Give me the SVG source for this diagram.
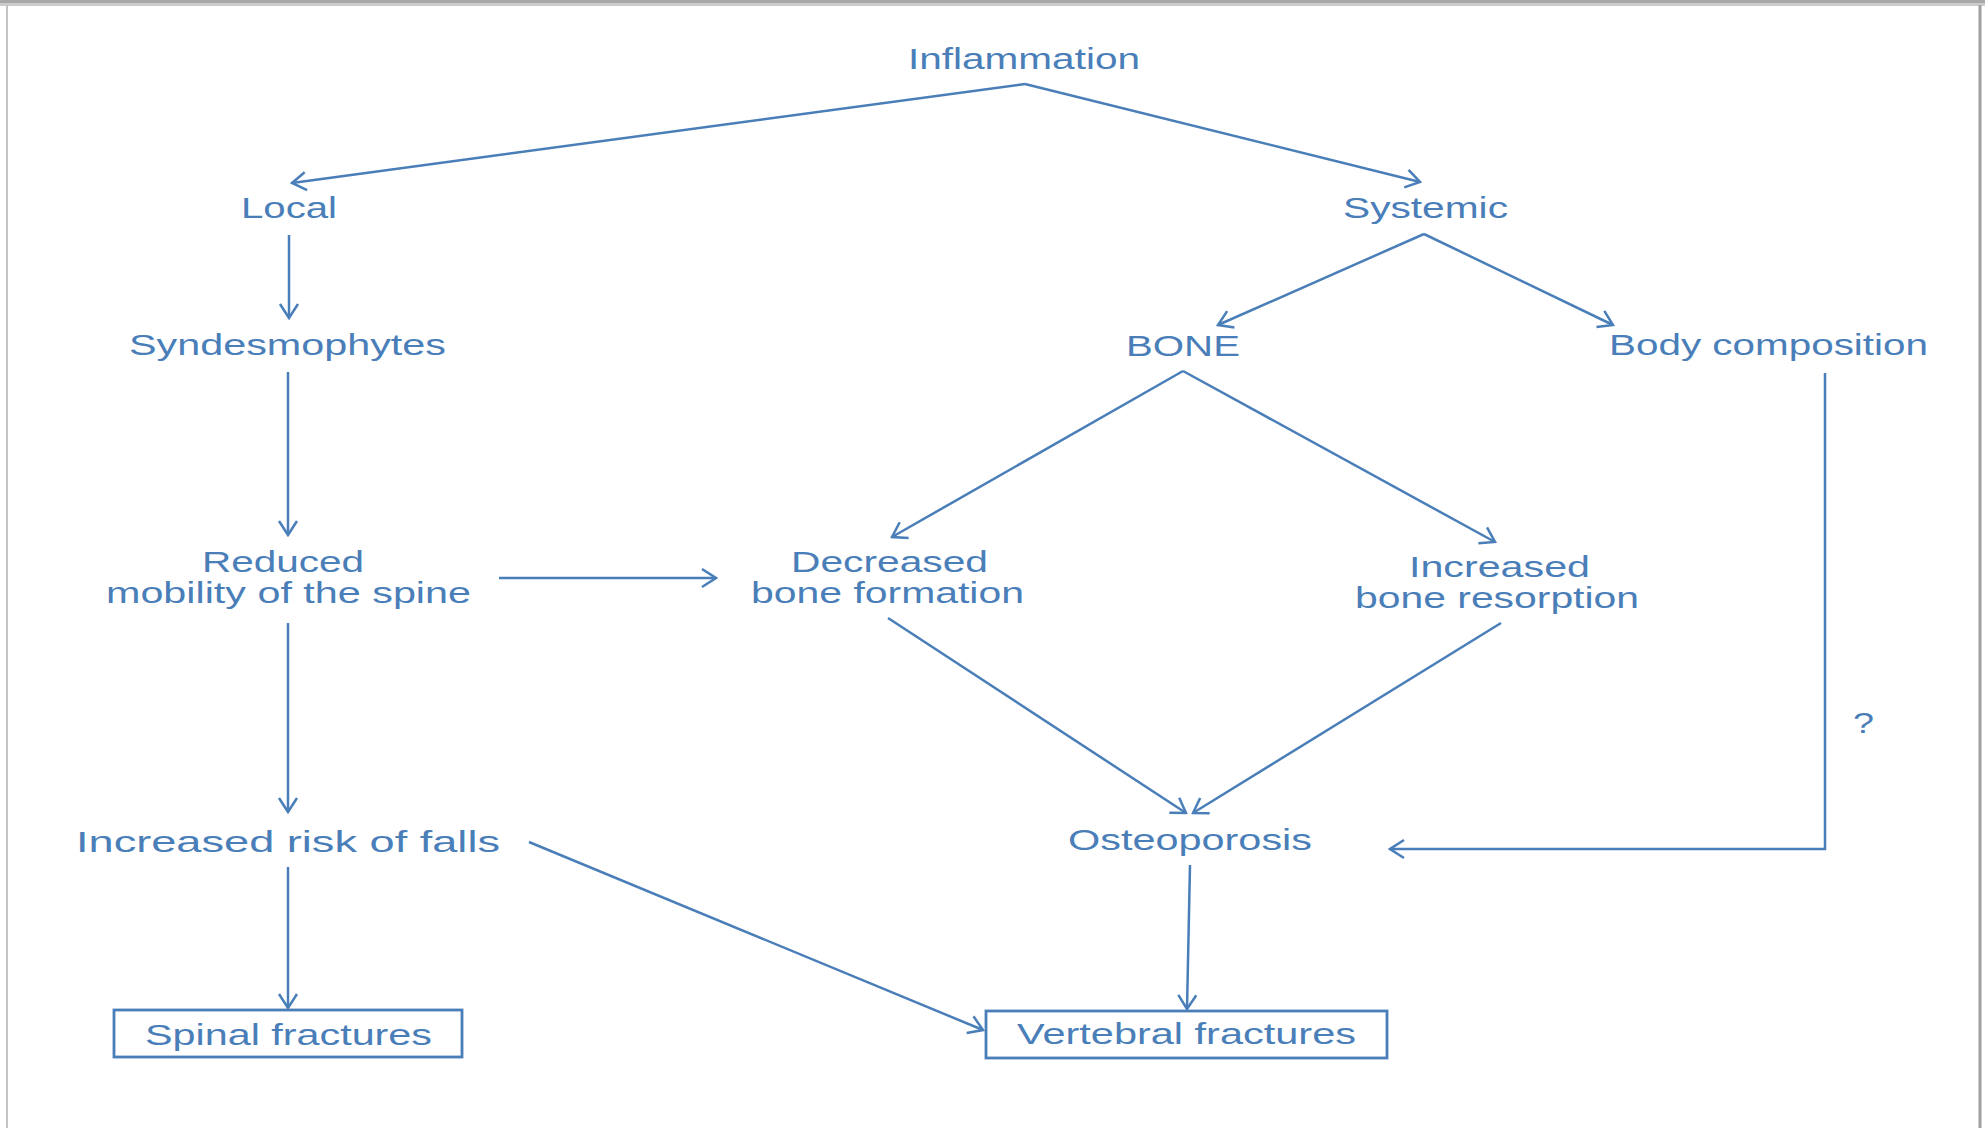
<svg xmlns="http://www.w3.org/2000/svg" width="1985" height="1128" viewBox="0 0 1985 1128">
<defs>
<style>
text{font-family:"Liberation Sans",Arial,sans-serif;font-size:29px;fill:#4a7eb8}
.c{fill:none;stroke:#4a7eb8;stroke-width:2.5}
.box{fill:none;stroke:#4a7eb8;stroke-width:2.8}
</style>
<marker id="ah" markerUnits="userSpaceOnUse" viewBox="-16 -11 18 22" markerWidth="18" markerHeight="22" refX="0" refY="0" orient="auto">
<path d="M-14,-9 L0,0 L-14,9" fill="none" stroke="#4a7eb8" stroke-width="2.5"/>
</marker>
</defs>
<rect width="1985" height="1128" fill="#ffffff"/>
<g id="frame">
<rect x="0" y="0" width="1985" height="3" fill="#a8a8a8"/>
<rect x="0" y="3" width="1985" height="3" fill="#cccccc"/>
<line x1="7" y1="5" x2="7" y2="1128" stroke="#c4c4c4" stroke-width="2"/>
<line x1="1980" y1="5" x2="1980" y2="1128" stroke="#a0a0a0" stroke-width="3"/>
</g>
<g id="connectors">
<path class="c" d="M1025,84 L292,183" marker-end="url(#ah)"/>
<path class="c" d="M1025,84 L1420,182" marker-end="url(#ah)"/>
<path class="c" d="M289,235 L289,318" marker-end="url(#ah)"/>
<path class="c" d="M288,372 L288,535" marker-end="url(#ah)"/>
<path class="c" d="M288,623 L288,812" marker-end="url(#ah)"/>
<path class="c" d="M288,867 L288,1008" marker-end="url(#ah)"/>
<path class="c" d="M499,578 L716,578" marker-end="url(#ah)"/>
<path class="c" d="M1424,234 L1218,325" marker-end="url(#ah)"/>
<path class="c" d="M1424,234 L1613,325" marker-end="url(#ah)"/>
<path class="c" d="M1183,371 L892,537" marker-end="url(#ah)"/>
<path class="c" d="M1183,371 L1495,542" marker-end="url(#ah)"/>
<path class="c" d="M888,618 L1186,813" marker-end="url(#ah)"/>
<path class="c" d="M1501,623 L1193,813" marker-end="url(#ah)"/>
<path class="c" d="M1825,373 L1825,849 L1390,849" stroke-width="3" marker-end="url(#ah)"/>
<path class="c" d="M1190,865 L1187,1009" marker-end="url(#ah)"/>
<path class="c" d="M529,842 L983,1030" marker-end="url(#ah)"/>
</g>
<g id="inflammation"><text x="908" y="69" textLength="232" lengthAdjust="spacingAndGlyphs">Inflammation</text></g>
<g id="local"><text x="241" y="218" textLength="96" lengthAdjust="spacingAndGlyphs">Local</text></g>
<g id="systemic"><text x="1343" y="218" textLength="165" lengthAdjust="spacingAndGlyphs">Systemic</text></g>
<g id="syndesmophytes"><text x="129" y="355" textLength="317" lengthAdjust="spacingAndGlyphs">Syndesmophytes</text></g>
<g id="bone"><text x="1126" y="356" textLength="114" lengthAdjust="spacingAndGlyphs">BONE</text></g>
<g id="body-composition"><text x="1609" y="355" textLength="319" lengthAdjust="spacingAndGlyphs">Body composition</text></g>
<g id="reduced-mobility">
<text x="202" y="572" textLength="162" lengthAdjust="spacingAndGlyphs">Reduced</text>
<text x="106" y="603" textLength="365" lengthAdjust="spacingAndGlyphs">mobility of the spine</text>
</g>
<g id="decreased-formation">
<text x="791" y="572" textLength="197" lengthAdjust="spacingAndGlyphs">Decreased</text>
<text x="751" y="603" textLength="273" lengthAdjust="spacingAndGlyphs">bone formation</text>
</g>
<g id="increased-resorption">
<text x="1409" y="577" textLength="181" lengthAdjust="spacingAndGlyphs">Increased</text>
<text x="1355" y="608" textLength="284" lengthAdjust="spacingAndGlyphs">bone resorption</text>
</g>
<g id="question"><text x="1853" y="733" textLength="21" lengthAdjust="spacingAndGlyphs">?</text></g>
<g id="falls"><text x="76" y="852" textLength="424" lengthAdjust="spacingAndGlyphs">Increased risk of falls</text></g>
<g id="osteoporosis"><text x="1068" y="850" textLength="244" lengthAdjust="spacingAndGlyphs">Osteoporosis</text></g>
<g id="spinal-fractures">
<rect class="box" x="114" y="1010" width="348" height="47"/>
<text x="145" y="1045" textLength="287" lengthAdjust="spacingAndGlyphs">Spinal fractures</text>
</g>
<g id="vertebral-fractures">
<rect class="box" x="986" y="1011" width="401" height="47"/>
<text x="1017" y="1044" textLength="339" lengthAdjust="spacingAndGlyphs">Vertebral fractures</text>
</g>
</svg>
